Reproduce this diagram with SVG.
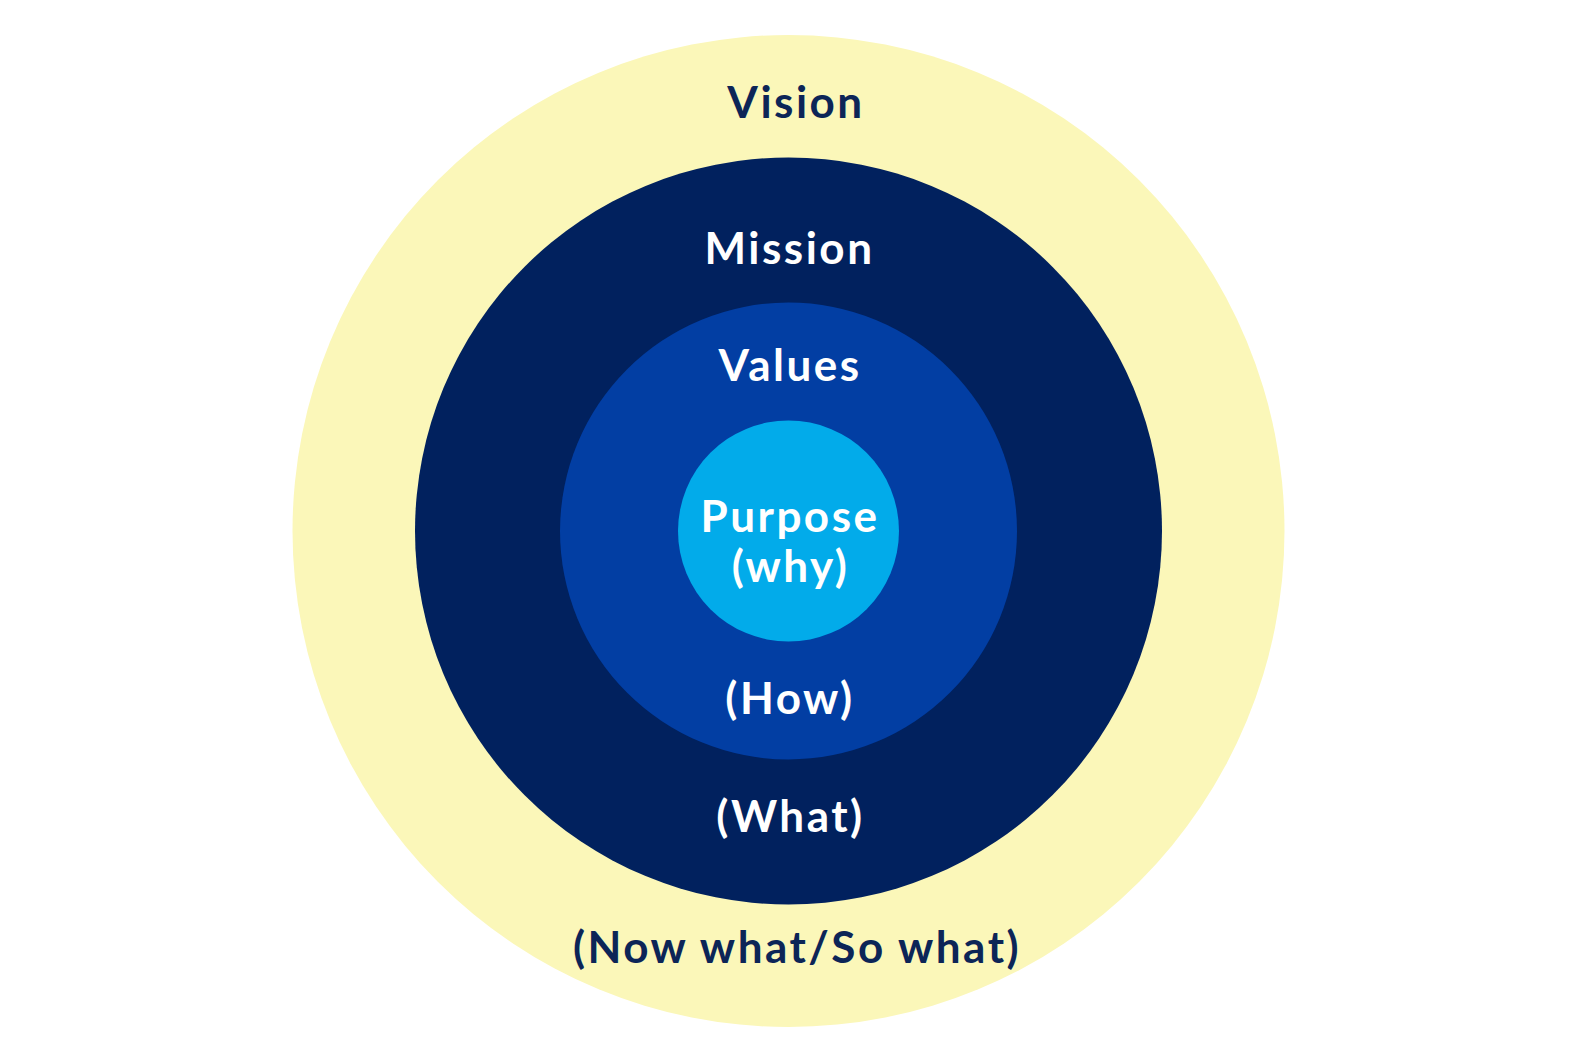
<svg xmlns="http://www.w3.org/2000/svg" width="1577" height="1063" viewBox="0 0 1577 1063">
<style>
text{font-family:Lato,"Noto Sans",sans-serif;font-weight:bold;font-size:44px;letter-spacing:2.5px;text-anchor:middle}
.d{fill:#0C2557}
.w{fill:#FFFFFF}
</style>
<rect width="1577" height="1063" fill="#FFFFFF"/>
<g id="vision"><circle cx="788.5" cy="531" r="496" fill="#FBF7B9"/>
<text class="d" x="796" y="118">Vision</text>
<text class="d" x="797" y="963">(Now what/So what)</text></g>
<g id="mission"><circle cx="788.5" cy="531" r="373.5" fill="#01215E"/>
<text class="w" x="789.5" y="264">Mission</text>
<text class="w" x="790.5" y="832">(What)</text></g>
<g id="values"><circle cx="788.5" cy="531" r="228.5" fill="#023EA3"/>
<text class="w" x="790" y="381">Values</text>
<text class="w" x="790" y="714">(How)</text></g>
<g id="purpose"><circle cx="788.5" cy="531" r="110.5" fill="#02ABEA"/>
<text class="w" x="790" y="532">Purpose</text>
<text class="w" x="790.5" y="582">(why)</text></g>
<g id="connectors"/>
</svg>
